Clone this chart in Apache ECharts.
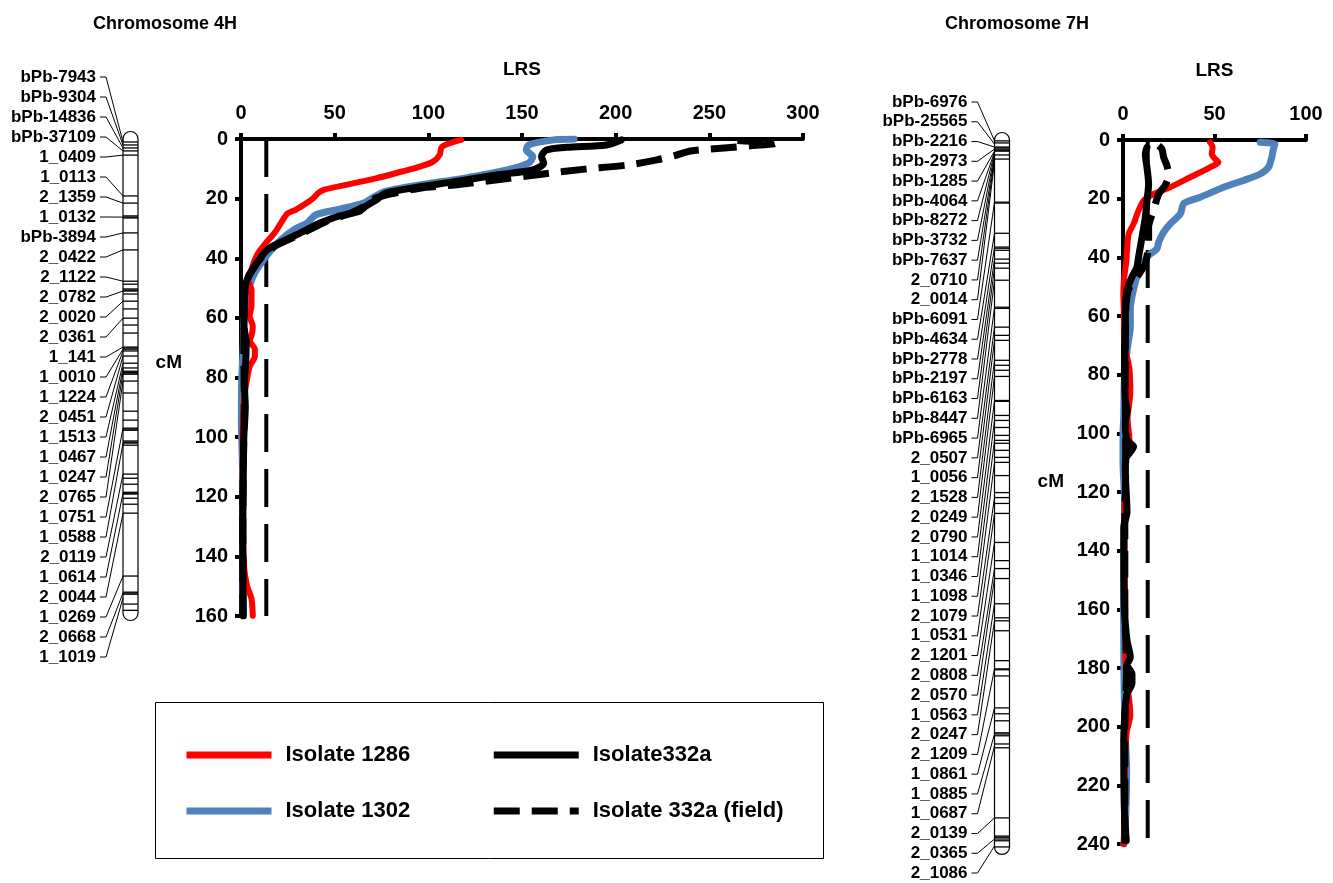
<!DOCTYPE html>
<html>
<head>
<meta charset="utf-8">
<title>LRS profiles 4H / 7H</title>
<script src="https://cdn.jsdelivr.net/npm/echarts@6/dist/echarts.min.js"></script>
<style>
  html, body { margin: 0; padding: 0; background: #fff; }
  #chart { width: 1333px; height: 883px; }
</style>
</head>
<body>
<div id="chart"></div>
<script>
// ---- data: marker maps ----
const chr4Markers = ['bPb-7943', 'bPb-9304', 'bPb-14836', 'bPb-37109', '1_0409', '1_0113', '2_1359', '1_0132',
  'bPb-3894', '2_0422', '2_1122', '2_0782', '2_0020', '2_0361', '1_141', '1_0010', '1_1224', '2_0451',
  '1_1513', '1_0467', '1_0247', '2_0765', '1_0751', '1_0588', '2_0119', '1_0614', '2_0044', '1_0269',
  '2_0668', '1_1019']
const chr4MarkerCM = [1.0, 2.0, 3.0, 4.0, 5.4, 19.1, 21.5, 26.2, 31.5, 37.2, 47.7, 51.0, 54.4, 60.1, 69.8, 70.5,
  71.1, 72.8, 75.2, 76.8, 78.5, 81.2, 97.0, 102.0, 112.4, 118.8, 125.5, 146.6, 152.3, 154.0]
const chr4Bands = [1.0, 2.0, 3.0, 4.0, 5.4, 19.1, 21.5, 25.8, 26.2, 26.5, 31.5, 37.2, 47.7, 48.7, 50.3, 50.7, 51.0,
  52.0, 54.4, 57.0, 60.1, 62.4, 65.1, 69.8, 70.1, 70.5, 71.1, 72.8, 75.2, 76.8, 77.9, 78.3, 78.5, 78.9, 81.2,
  85.2, 91.3, 94.3, 97.0, 97.3, 97.7, 101.3, 101.7, 102.0, 102.7, 112.4, 113.8, 115.8, 118.5, 118.8, 119.1,
  120.5, 122.5, 125.5, 146.6, 152.0, 152.3, 152.7, 156.0, 158.1]
const chr4Length = 159

const chr7Markers = ['bPb-6976', 'bPb-25565', 'bPb-2216', 'bPb-2973', 'bPb-1285', 'bPb-4064', 'bPb-8272',
  'bPb-3732', 'bPb-7637', '2_0710', '2_0014', 'bPb-6091', 'bPb-4634', 'bPb-2778', 'bPb-2197', 'bPb-6163',
  'bPb-8447', 'bPb-6965', '2_0507', '1_0056', '2_1528', '2_0249', '2_0790', '1_1014', '1_0346', '1_1098',
  '2_1079', '1_0531', '2_1201', '2_0808', '2_0570', '1_0563', '2_0247', '2_1209', '1_0861', '1_0885',
  '1_0687', '2_0139', '2_0365', '2_1086']
const chr7MarkerCM = [0.3, 1.4, 2.4, 3.1, 3.8, 4.1, 4.4, 5.1, 5.8, 6.5, 7.5, 21.2, 31.8, 36.5, 40.6, 43.7, 47.8,
  57.0, 63.8, 68.3, 75.1, 80.6, 88.8, 95.6, 102.4, 109.9, 121.9, 127.3, 137.2, 146.1, 149.5, 158.1, 163.9,
  180.3, 193.6, 202.5, 206.6, 231.1, 238.3, 240.7]
const chr7Bands = [0.3, 1.0, 2.4, 2.7, 3.1, 3.5, 3.8, 5.1, 6.5, 21.2, 21.5, 31.8, 36.5, 36.9, 37.6, 40.6, 42.0,
  43.7, 47.8, 57.0, 57.4, 63.8, 66.6, 68.3, 75.1, 76.8, 78.5, 80.6, 88.8, 89.1, 93.9, 95.6, 98.0, 100.7, 102.4,
  103.4, 105.8, 108.2, 109.9, 114.4, 120.2, 121.9, 123.9, 127.3, 137.2, 143.4, 146.1, 149.5, 158.1, 162.9,
  163.9, 167.3, 177.5, 180.3, 180.6, 182.7, 193.6, 195.6, 198.0, 202.1, 202.5, 203.1, 205.9, 207.2, 231.1,
  237.3, 237.7, 238.3, 238.9, 241.0]
const chr7Length = 241

// ---- data: LRS profiles, [LRS, cM] ----
const lrs4H_1286 = [[117.5, 0.3], [114, 0.9], [109, 2], [107, 2.8], [106, 5.4], [102.5, 7.6], [95.5, 9.3], [86, 10.9],
  [72, 13.2], [56, 15.4], [44.5, 17], [41, 18.2], [38.7, 19.8], [35, 21.5], [29.4, 23.7], [24.8, 25], [21.3, 28.2],
  [17.9, 31.5], [13.2, 34.9], [9.7, 37.7], [7.4, 40.5], [5.1, 44.9], [3.9, 47.7], [5.6, 50.5], [5.6, 56],
  [4.6, 59.4], [6.3, 62.8], [5.6, 66], [4.6, 67.5], [7.4, 70.6], [7.4, 72.9], [4.6, 76.3], [3.2, 80.6],
  [1.6, 87.3], [0.9, 98.3], [0.9, 120.7], [1.6, 143], [3.2, 149.8], [5.6, 154.2], [6.3, 159.9]]
const lrs4H_1302 = [[177.8, 0], [167, 0.3], [153.5, 2], [152.3, 3.7], [155.8, 5.9], [153.5, 8.1], [142, 10.4],
  [118.7, 13.2], [95.5, 15.4], [77, 17.6], [70, 19.8], [65.4, 21.5], [51.5, 23.7], [40, 25.4], [35.2, 28.2],
  [28.3, 30.4], [21.3, 33.8], [15.5, 37.7], [12, 40.5], [7.4, 44.9], [5.1, 48.3], [4, 51.6], [1.6, 60.5],
  [1.2, 70], [0.3, 82], [0.2, 95], [0.8, 110], [1, 130], [0.8, 145], [1.2, 160]]
const lrs4H_332a = [[203, 0.3], [195, 2], [174, 2.8], [163, 3.7], [160.4, 5.9], [161.6, 8.1], [155.8, 10.4],
  [137, 12], [114, 14.3], [91, 16.5], [77, 18.2], [72.3, 20.4], [66.5, 22.6], [63, 24.3], [51.5, 26], [42.2, 28.2],
  [35.2, 30.4], [26, 33.2], [16.7, 36], [13.2, 37.7], [9.7, 40.5], [6.3, 43.8], [4, 46], [2.3, 49.4], [1.6, 53.8],
  [1.6, 62.8], [2.8, 68.3], [2.5, 75], [1.8, 82], [2.3, 90], [1.5, 100], [1.2, 115], [0.9, 130], [1, 145], [1.2, 160]]
const lrs4H_332aField = [[265, 0.5], [285, 1.5], [272, 2.3], [258, 3], [240, 4], [232, 5.5], [222, 7], [206.8, 8.7],
  [183.6, 10.1], [160.4, 11.8], [137, 13.7], [114, 15.4], [95.5, 16.5], [81.6, 18.2], [72, 19.8], [66, 22.5],
  [58, 25], [46, 27.5], [38, 30], [28, 33], [18, 36], [12, 39], [8, 42], [4.5, 45.5], [2.5, 49], [1.8, 55],
  [1.5, 70], [1.8, 90], [1.2, 110], [1, 130], [1, 160]]

const lrs7H_1286 = [[47.6, 0.8], [49, 2.5], [48.5, 4.8], [50.4, 6.5], [52.2, 7.6], [47.6, 9.3], [36.7, 12.7],
  [25.8, 16.1], [16.7, 18.4], [11.3, 20.6], [8.5, 24], [5.8, 28.6], [3.1, 32], [2.2, 37.6], [1.8, 41.6],
  [0.7, 46.7], [0.2, 52], [0.5, 60], [1, 70], [3.5, 78], [4, 86], [2.5, 95], [3.5, 102], [1.5, 110], [1, 125],
  [0.8, 140], [1.2, 160], [1.5, 180], [4, 196], [2, 202], [1, 215], [0.5, 240]]
const lrs7H_1302 = [[75, 0.8], [83, 1.4], [82, 3.6], [81.3, 5.9], [79.5, 9.3], [75, 11.6], [65.8, 13.8], [55, 16.1],
  [42.2, 19.5], [36.7, 20.6], [33, 21.8], [31.3, 25.2], [25.8, 28.6], [22.2, 31.4], [19.5, 34.8], [18.5, 37.1],
  [13.1, 39.9], [7.6, 46.7], [4.9, 53.5], [4, 58], [4, 63.7], [2.2, 71.7], [0.7, 83], [0.4, 94.3], [0, 100],
  [0, 110], [1, 125], [0.5, 140], [0.3, 160], [0.5, 180], [1, 200], [2, 215], [1.5, 230], [0.5, 240]]
const lrs7H_332a = [[13.1, 2.5], [12.2, 4.8], [13.1, 9.3], [14, 15], [13.1, 20.6], [12.2, 26.3], [10.4, 33.1],
  [8.5, 39.9], [7.6, 43.3], [4.9, 46.7], [2.2, 51.2], [1.3, 58], [1.3, 66], [0.9, 77.3], [1.3, 88.7], [2.2, 92],
  [1.3, 96.6], [2.2, 102.3], [5.8, 104.5], [1.3, 109], [1.3, 113.7], [2.2, 126.9], [0.4, 132], [0.7, 159.3],
  [2.2, 170.6], [4, 176.3], [2.2, 179], [4.9, 182], [4.9, 185.3], [2.2, 188.7], [1.3, 193.3], [0.4, 204.7],
  [0.7, 227.4], [1.8, 238.8]]
const lrs7H_332aField = [[19.5, 1.9], [21.3, 3.1], [22.2, 5.9], [24, 8.7], [25, 12.1], [23, 15.5], [19.5, 18.4],
  [16.7, 24], [14, 29.7], [14, 34.2], [12.2, 42.2], [7.6, 46.7], [3, 51], [1.5, 58], [1.2, 70], [1.3, 90],
  [1.5, 110], [1, 130], [1, 160], [2, 180], [1, 200], [1, 240]]

const threshold = 13.5
const seriesNames = ['Isolate 1286', 'Isolate 1302', 'Isolate332a', 'Isolate 332a (field)']

// ---- layout / style ----
const FONT = "'Liberation Sans', Arial, Helvetica, sans-serif"
const COLORS = { red: '#FF0000', blue: '#4F81BD', black: '#000000' }
// 标签列的像素排布 (均匀间距, 与染色体上的位置通过连线对应)
const LABELS_4H = { top: 77, step: 20 }
const LABELS_7H = { top: 102, step: 19.77 }

const chart = echarts.init(document.getElementById('chart'), null, { renderer: 'canvas' })

function chromBody(params, api) {
  const a = api.coord([0, 0])
  const b = api.coord([1, api.value(1)])
  const r = (b[0] - a[0]) / 2
  return {
    type: 'rect',
    shape: { x: a[0], y: a[1] - r, width: b[0] - a[0], height: b[1] - a[1] + 2 * r, r },
    style: { fill: '#fff', stroke: '#000', lineWidth: 1.2 },
  }
}

function bandLine(params, api) {
  const a = api.coord([0, api.value(1)])
  const b = api.coord([1, api.value(1)])
  return {
    type: 'line',
    shape: { x1: a[0], y1: a[1], x2: b[0], y2: b[1] },
    style: { stroke: '#000', lineWidth: 1.3 },
  }
}

function markerLabel(names, layout) {
  return (params, api) => {
    const i = api.value(2)
    const p = api.coord([0, api.value(1)])
    const ly = layout.top + i * layout.step
    const x0 = p[0]
    return {
      type: 'group',
      children: [
        {
          type: 'polyline',
          shape: { points: [[x0 - 23, ly], [x0 - 17, ly], [x0, p[1]]] },
          style: { stroke: '#000', lineWidth: 1, fill: 'none' },
        },
        {
          type: 'text',
          style: {
            x: x0 - 27, y: ly, text: names[i], align: 'right', verticalAlign: 'middle',
            font: `bold 17px ${FONT}`, fill: '#000',
          },
        },
      ],
    }
  }
}

function chromSeries(gridIdx, length, bands, names, cms, layout) {
  return [
    { type: 'custom', xAxisIndex: gridIdx, yAxisIndex: gridIdx, z: 1, silent: true,
      renderItem: chromBody, data: [[0, length]] },
    { type: 'custom', xAxisIndex: gridIdx, yAxisIndex: gridIdx, z: 2, silent: true,
      renderItem: bandLine, data: bands.map(v => [0, v]) },
    { type: 'custom', xAxisIndex: gridIdx, yAxisIndex: gridIdx, z: 3, silent: true,
      renderItem: markerLabel(names, layout), data: cms.map((v, i) => [0, v, i]) },
  ]
}

function hiddenAxes(gridIdx, yMax) {
  return {
    x: { type: 'value', gridIndex: gridIdx, min: 0, max: 1, show: false },
    y: { type: 'value', gridIndex: gridIdx, min: 0, max: yMax, inverse: true, show: false },
  }
}

// cmLift: 'cM' 标题相对轴中点上移的像素
function plotAxes(gridIdx, xMax, yMax, cmLift) {
  const lineStyle = { color: '#000', width: 4 }
  const label = { color: '#000', fontSize: 20, fontWeight: 'bold', fontFamily: FONT }
  return {
    x: {
      type: 'value', gridIndex: gridIdx, position: 'top', min: 0, max: xMax, interval: 50,
      name: 'LRS', nameLocation: 'middle', nameGap: 60,
      nameTextStyle: { ...label, fontSize: 19 },
      axisLine: { onZero: false, lineStyle },
      axisTick: { show: true, length: 6, lineStyle },
      axisLabel: { ...label, margin: 16 },
      splitLine: { show: false },
    },
    y: {
      type: 'value', gridIndex: gridIdx, min: 0, max: yMax, interval: 20, inverse: true,
      name: 'cM', nameLocation: 'middle', nameRotate: 0, nameGap: 59,
      nameTextStyle: { ...label, fontSize: 19, verticalAlign: 'bottom', lineHeight: cmLift * 2 },
      axisLine: { onZero: false, lineStyle },
      axisTick: { show: true, length: 6, lineStyle },
      axisLabel: { ...label, margin: 13 },
      splitLine: { show: false },
    },
  }
}

function lrsSeries(gridIdx, yMax, d1286, d1302, d332a, dField) {
  const common = {
    type: 'line', xAxisIndex: gridIdx, yAxisIndex: gridIdx, symbol: 'none', smooth: 0.25,
    silent: true, animation: false,
  }
  return [
    { ...common, name: 'threshold', smooth: false, z: 2,
      lineStyle: { color: '#000', width: 4, type: [38, 17] },
      data: [[threshold, 0], [threshold, yMax]] },
    { ...common, name: seriesNames[1], z: 3, color: COLORS.blue,
      lineStyle: { color: COLORS.blue, width: 7, cap: 'round', join: 'round' }, data: d1302 },
    { ...common, name: seriesNames[0], z: 4, color: COLORS.red,
      lineStyle: { color: COLORS.red, width: 6, cap: 'round', join: 'round' }, data: d1286 },
    { ...common, name: seriesNames[3], z: 5, color: COLORS.black,
      lineStyle: { color: COLORS.black, width: 7, type: [26, 12], join: 'round' }, data: dField },
    { ...common, name: seriesNames[2], z: 6, color: COLORS.black,
      lineStyle: { color: COLORS.black, width: 7, cap: 'round', join: 'round' }, data: d332a },
  ]
}

const ax0 = hiddenAxes(0, 160)
const ax1 = plotAxes(1, 300, 160, 15)
const ax2 = hiddenAxes(2, 240)
const ax3 = plotAxes(3, 100, 240, 10)

// 图例: 只画线, 把线系列图例里默认的圆点符号设为透明
const legendCommon = {
  left: 178, itemWidth: 85, itemHeight: 26, itemGap: 80, selectedMode: false,
  lineStyle: { width: 7, cap: 'butt' },
  itemStyle: { color: 'rgba(0,0,0,0)', borderColor: 'rgba(0,0,0,0)', borderWidth: 0, opacity: 0 },
  textStyle: { fontSize: 22, fontWeight: 'bold', color: '#000', fontFamily: FONT, padding: [0, 0, 0, 9] },
}

chart.setOption({
  animation: false,
  backgroundColor: '#fff',
  textStyle: { fontFamily: FONT },
  title: [
    { text: 'Chromosome 4H', left: 88, top: 10,
      textStyle: { fontSize: 18, fontWeight: 'bold', color: '#000', fontFamily: FONT } },
    { text: 'Chromosome 7H', left: 940, top: 10,
      textStyle: { fontSize: 18, fontWeight: 'bold', color: '#000', fontFamily: FONT } },
  ],
  legend: [
    { ...legendCommon, top: 739, data: [seriesNames[0], seriesNames[2]] },
    { ...legendCommon, top: 795, data: [seriesNames[1], seriesNames[3]] },
  ],
  grid: [
    { left: 123, top: 139, width: 15, height: 477 },
    { left: 241, top: 139, width: 562, height: 477 },
    { left: 994.5, top: 140, width: 15, height: 704 },
    { left: 1123, top: 140, width: 183, height: 704 },
  ],
  xAxis: [ax0.x, ax1.x, ax2.x, ax3.x],
  yAxis: [ax0.y, ax1.y, ax2.y, ax3.y],
  graphic: [{
    type: 'rect', left: 153, top: 700, z: 0, silent: true,
    shape: { width: 668, height: 156 },
    style: { fill: 'none', stroke: '#000', lineWidth: 1 },
  }],
  series: [
    ...chromSeries(0, chr4Length, chr4Bands, chr4Markers, chr4MarkerCM, LABELS_4H),
    ...lrsSeries(1, 160, lrs4H_1286, lrs4H_1302, lrs4H_332a, lrs4H_332aField),
    ...chromSeries(2, chr7Length, chr7Bands, chr7Markers, chr7MarkerCM, LABELS_7H),
    ...lrsSeries(3, 240, lrs7H_1286, lrs7H_1302, lrs7H_332a, lrs7H_332aField),
  ],
})

window.addEventListener('resize', () => chart.resize())
</script>
</body>
</html>
